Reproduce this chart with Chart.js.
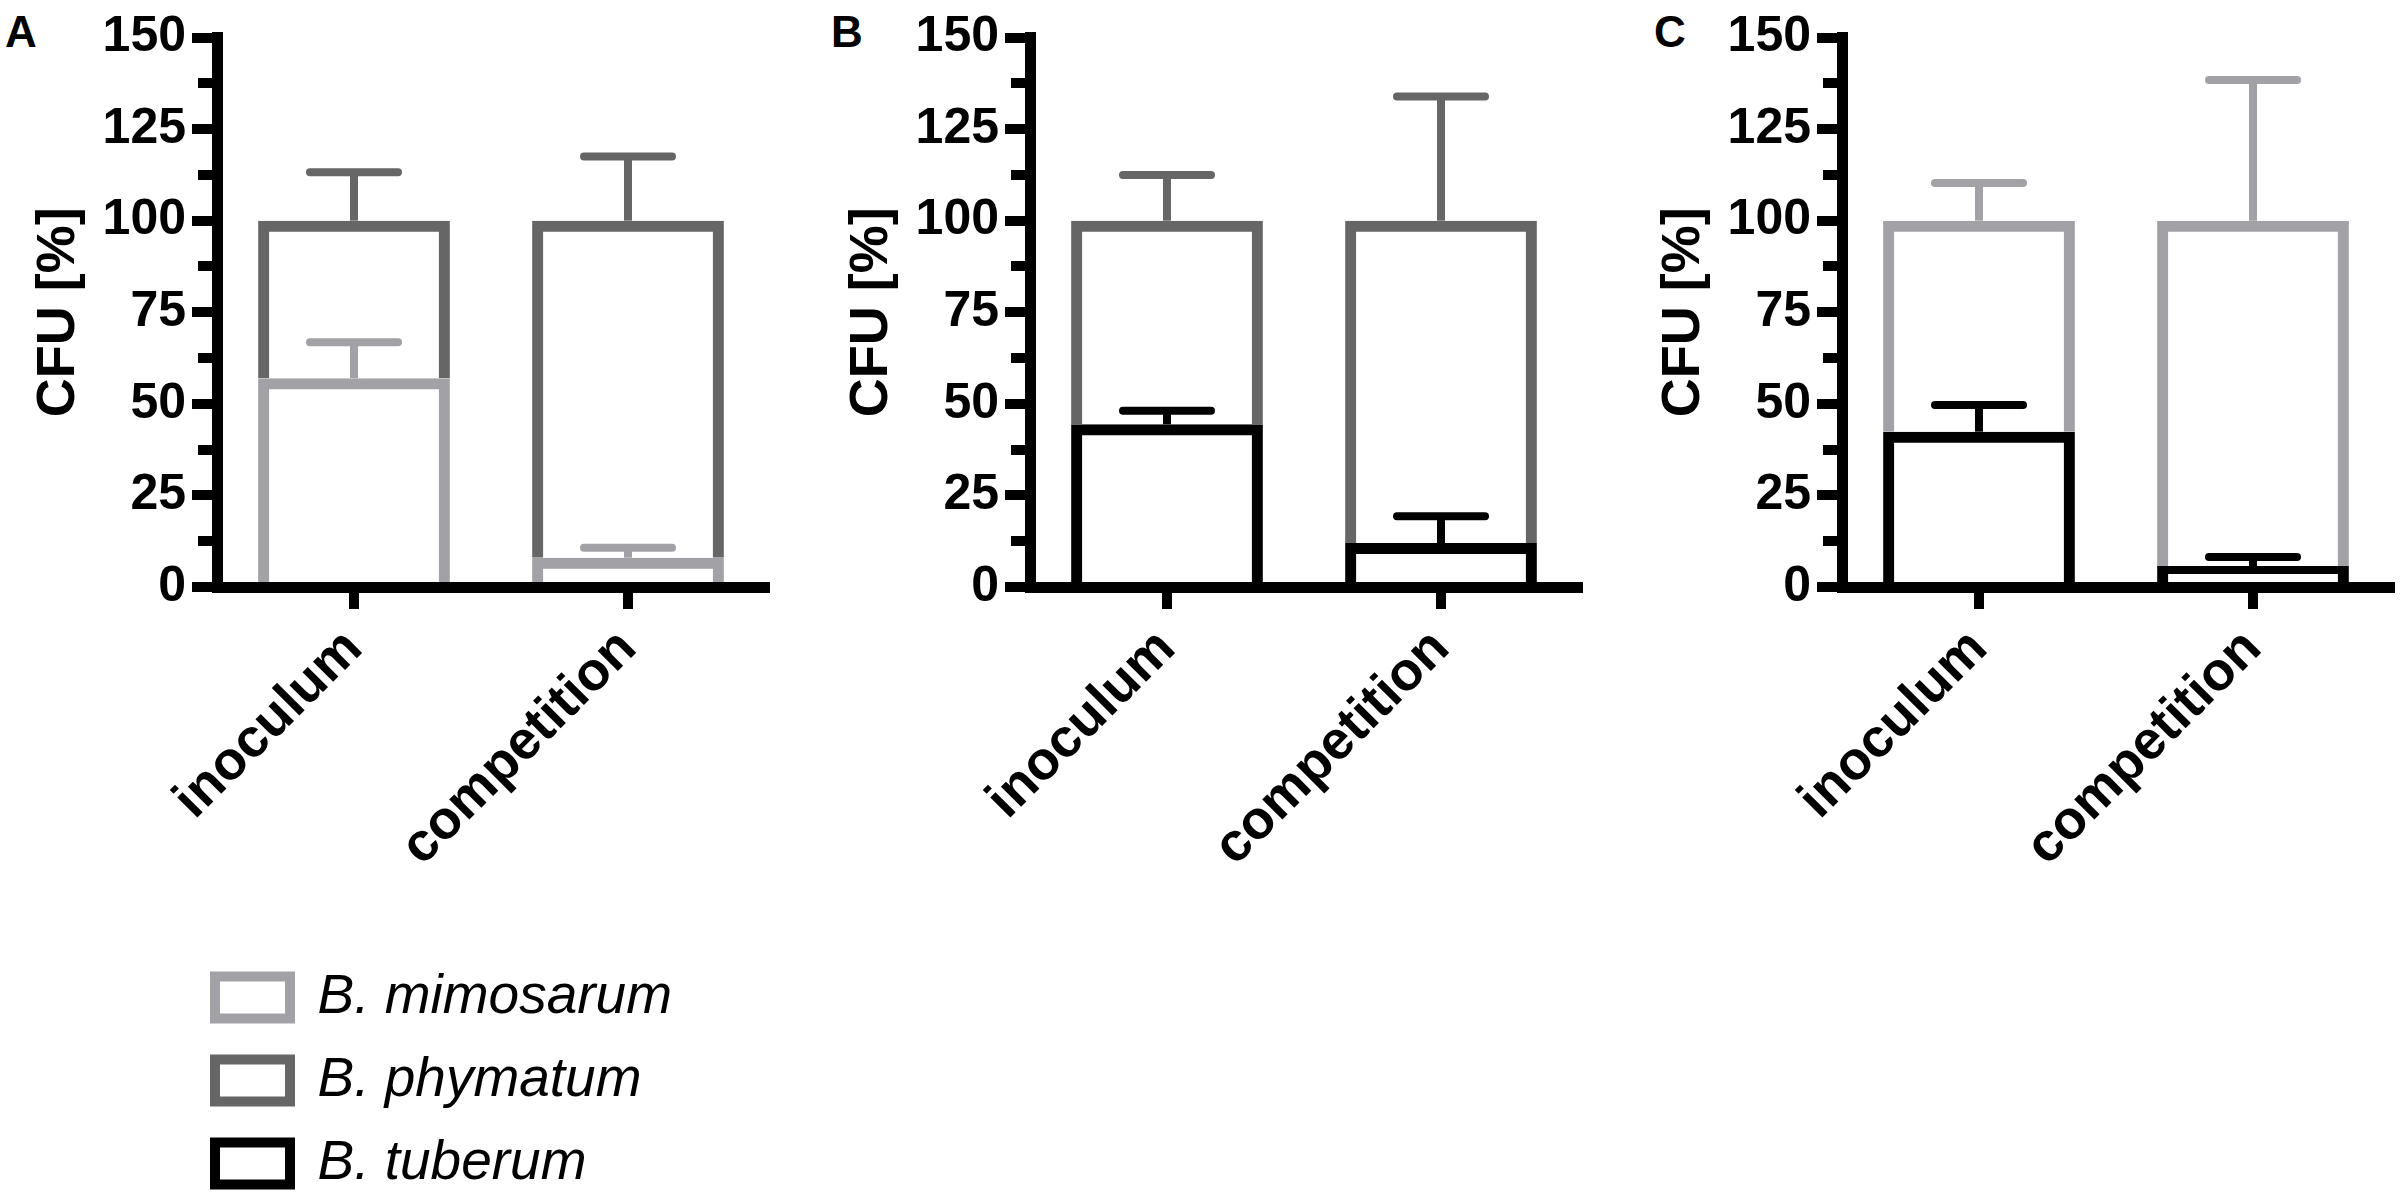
<!DOCTYPE html>
<html>
<head>
<meta charset="utf-8">
<title>CFU competition</title>
<script src="https://cdn.jsdelivr.net/npm/chart.js@4.4.1/dist/chart.umd.min.js"></script>
<style>
  html, body { margin: 0; padding: 0; background: #fff; }
  body { width: 2400px; height: 1200px; position: relative; overflow: hidden; }
  canvas { position: absolute; top: 0; }
  .letter { position: absolute; top: 7px; margin: 0; line-height: 1; color: #000;
            font: bold 44px "Liberation Sans", Arial, sans-serif; }
</style>
</head>
<body>
<div class="letter" style="left:5px">A</div>
<div class="letter" style="left:831px">B</div>
<div class="letter" style="left:1654px">C</div>
<canvas id="chartA" width="785" height="900" style="left:0px"></canvas>
<canvas id="chartB" width="785" height="900" style="left:813px"></canvas>
<canvas id="chartC" width="785" height="900" style="left:1625px"></canvas>
<canvas id="legendChart" width="600" height="640" style="left:187px; top:942px"></canvas>
<script>
const FONT = '"Liberation Sans", Arial, Helvetica, sans-serif';

// Categories and series
const categories = ['inoculum', 'competition'];
const seriesNames = ['B. mimosarum', 'B. phymatum', 'B. tuberum'];
const seriesColors = ['#a2a2a6', '#666666', '#000000'];

// Panel A: B. mimosarum (bottom) + B. phymatum (stacked on top, total 100 %)
const aMimosarum = [57.0, 8.0];
const aMimosarumErr = [9.8, 2.7];
const aPhymatum = [43.0, 92.0];
const aPhymatumErr = [13.2, 17.5];

// Panel B: B. tuberum (bottom) + B. phymatum (top)
const bTuberum = [44.4, 12.0];
const bTuberumErr = [3.7, 7.3];
const bPhymatum = [55.6, 88.0];
const bPhymatumErr = [12.5, 33.9];

// Panel C: B. tuberum (bottom) + B. mimosarum (top)
const cTuberum = [42.4, 5.7];
const cTuberumErr = [7.3, 2.5];
const cMimosarum = [57.6, 94.3];
const cMimosarumErr = [10.3, 38.4];

// Y axis
const yMin = 0;
const yMax = 150;
const yStep = 12.5;     // minor ticks
const yLabelStep = 25;  // labelled ticks

Chart.defaults.font.family = FONT;
Chart.defaults.color = '#000';

// upper error bars: stem from segment top + cap
const errorBars = {
    id: 'errorBars',
    afterDatasetsDraw(chart) {
        const ctx = chart.ctx;
        const yScale = chart.scales.y;
        chart.data.datasets.forEach((ds, i) => {
            if (!ds.errors) return;
            const meta = chart.getDatasetMeta(i);
            meta.data.forEach((bar, j) => {
                const top = yScale.getValueForPixel(bar.y);
                const yEnd = yScale.getPixelForValue(top + ds.errors[j]);
                ctx.save();
                ctx.strokeStyle = ds.borderColor;
                ctx.lineWidth = 8;
                ctx.lineCap = 'butt';
                ctx.beginPath();
                ctx.moveTo(bar.x, bar.y);
                ctx.lineTo(bar.x, yEnd);
                ctx.stroke();
                ctx.lineCap = 'round';
                ctx.beginPath();
                ctx.moveTo(bar.x - 44, yEnd);
                ctx.lineTo(bar.x + 44, yEnd);
                ctx.stroke();
                ctx.restore();
            });
        });
    }
};

function makeDataset(name, values, errors) {
    const k = seriesNames.indexOf(name);
    return {
        label: name,
        data: values,
        errors: errors,
        borderColor: seriesColors[k],
        backgroundColor: 'rgba(0,0,0,0)',
        borderWidth: 11,
        borderSkipped: 'start',
        barPercentage: 0.70,
        categoryPercentage: 1.0
    };
}

function isMajor(ctx) {
    return ctx.tick && ctx.tick.value % yLabelStep === 0;
}

function panelOptions() {
    return {
        responsive: false,
        animation: false,
        layout: { padding: { top: 37.5, right: 20, bottom: 0, left: 0 } },
        plugins: {
            legend: { display: false },
            tooltip: { enabled: false }
        },
        scales: {
            x: {
                stacked: true,
                grid: {
                    drawOnChartArea: false,
                    offset: false,
                    tickLength: 22,
                    tickWidth: 10,
                    lineWidth: 10,
                    tickColor: '#000',
                    color: '#000'
                },
                border: { display: true, width: 11, color: '#000' },
                ticks: {
                    color: '#000',
                    autoSkip: false,
                    minRotation: 45,
                    maxRotation: 45,
                    padding: 8,
                    font: { size: 54, weight: 'bold' }
                },
                afterFit: (scale) => { scale.height = 313; }
            },
            y: {
                stacked: true,
                min: yMin,
                max: yMax,
                grid: {
                    drawOnChartArea: false,
                    tickLength: 25,
                    tickWidth: 10,
                    lineWidth: 10,
                    tickColor: '#000',
                    color: '#000',
                    // minor ticks shorter: skip their outer part
                    tickBorderDash: (ctx) => isMajor(ctx) ? [] : [100, 100],
                    tickBorderDashOffset: (ctx) => isMajor(ctx) ? 0 : 194
                },
                border: { display: true, width: 11, color: '#000' },
                ticks: {
                    stepSize: yStep,
                    maxTicksLimit: 20,
                    autoSkip: false,
                    padding: 6,
                    color: '#000',
                    font: { size: 50, weight: 'bold' },
                    callback: (v) => v % yLabelStep === 0 ? v : ''
                },
                title: {
                    display: true,
                    text: 'CFU [%]',
                    color: '#000',
                    font: { size: 54, weight: 'bold' },
                    padding: { top: 27, bottom: 0 }
                },
                afterFit: (scale) => { scale.width = 217; }
            }
        }
    };
}

const chartA = new Chart(document.getElementById('chartA'), {
    type: 'bar',
    data: {
        labels: categories,
        datasets: [
            makeDataset('B. mimosarum', aMimosarum, aMimosarumErr),
            makeDataset('B. phymatum', aPhymatum, aPhymatumErr)
        ]
    },
    options: panelOptions(),
    plugins: [errorBars]
});

const chartB = new Chart(document.getElementById('chartB'), {
    type: 'bar',
    data: {
        labels: categories,
        datasets: [
            makeDataset('B. tuberum', bTuberum, bTuberumErr),
            makeDataset('B. phymatum', bPhymatum, bPhymatumErr)
        ]
    },
    options: panelOptions(),
    plugins: [errorBars]
});

const chartC = new Chart(document.getElementById('chartC'), {
    type: 'bar',
    data: {
        labels: categories,
        datasets: [
            makeDataset('B. tuberum', cTuberum, cTuberumErr),
            makeDataset('B. mimosarum', cMimosarum, cMimosarumErr)
        ]
    },
    options: panelOptions(),
    plugins: [errorBars]
});

// Shared legend, one series per row (canvas is tall because a top legend
// may only take half of the chart height)
const legendChart = new Chart(document.getElementById('legendChart'), {
    type: 'bar',
    data: {
        labels: [],
        datasets: seriesNames.map((name, k) => ({
            label: name,
            data: [],
            borderColor: seriesColors[k],
            backgroundColor: 'rgba(0,0,0,0)',
            borderWidth: 10
        }))
    },
    options: {
        responsive: false,
        animation: false,
        layout: { padding: 0 },
        scales: { x: { display: false }, y: { display: false } },
        plugins: {
            tooltip: { enabled: false },
            legend: {
                display: true,
                position: 'top',
                align: 'start',
                labels: {
                    boxWidth: 75,
                    boxHeight: 42,
                    padding: 28,
                    color: '#000',
                    font: { size: 55, style: 'italic' }
                }
            }
        }
    }
});
</script>
</body>
</html>
